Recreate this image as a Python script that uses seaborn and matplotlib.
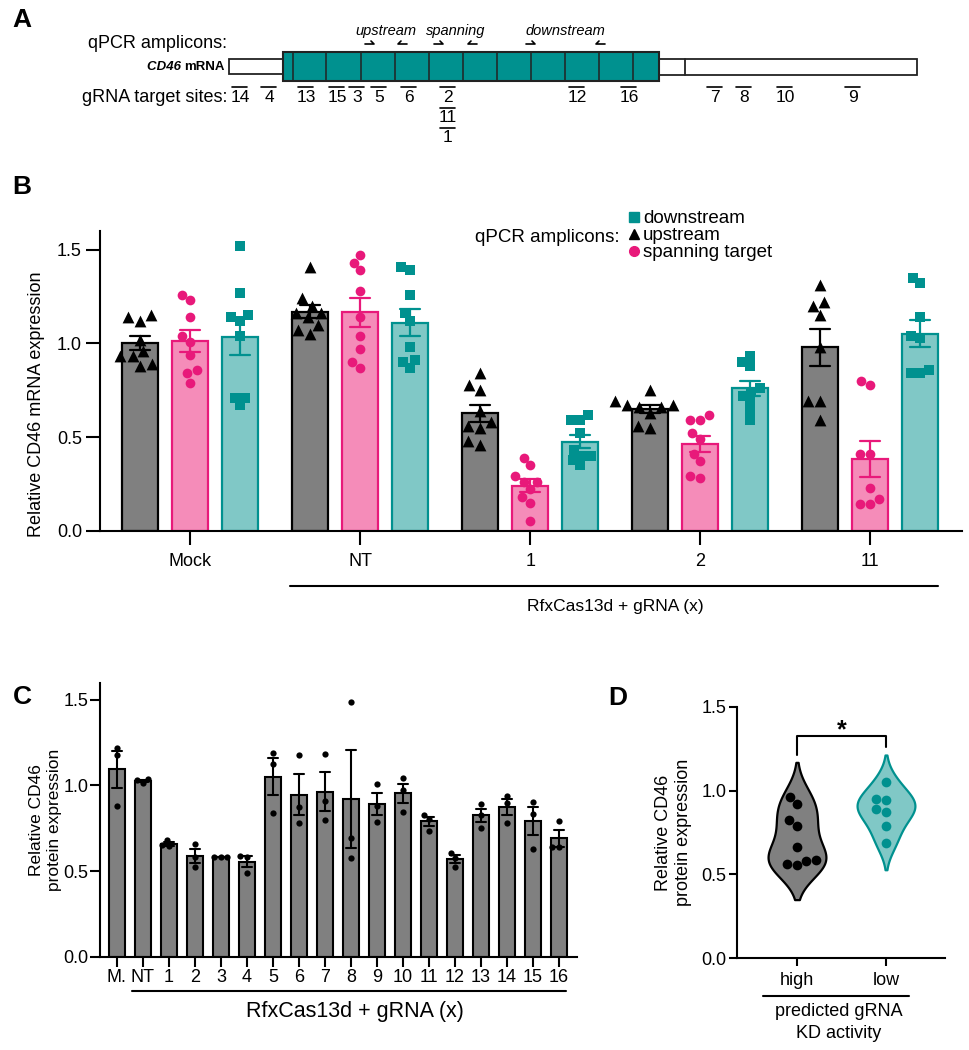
import numpy as np
import pandas as pd
import seaborn as sns
import matplotlib.pyplot as plt
from matplotlib.patches import Rectangle
from matplotlib.lines import Line2D

GRAY = "#808080"
PINK, PINK_DK = "#F58CB9", "#E8197A"
TEAL, TEAL_DK = "#80C8C6", "#00918F"

# A: CD46 transcript map (x in figure pixels)
exon_edges = [283, 293, 326, 361, 395, 429, 463, 497, 531, 565, 599, 633, 659]
utr5 = [229, 283]
utr3 = [659, 685, 917]
site_labels = ["14", "4", "13", "15", "3", "5", "6", "2", "11", "1", "12", "16", "7", "8", "10", "9"]
site_pos = [240, 269, 306, 337, 357, 379, 409, 448, 448, 448, 577, 629, 715, 744, 785, 853]
site_row = [0, 0, 0, 0, 0, 0, 0, 0, 1, 2, 0, 0, 0, 0, 0, 0]
amplicon_names = ["upstream", "spanning", "downstream"]
primer_fwd = [370, 439, 531]
primer_rev = [402, 472, 600]

# B: qPCR, relative CD46 mRNA
groups_b = ["Mock", "NT", "1", "2", "11"]
amplicons = ["upstream", "spanning target", "downstream"]
upstream = {
    "Mock": [1.14, 1.12, 1.15, 1.02, 0.93, 0.93, 0.96, 0.88, 0.89],
    "NT": [1.41, 1.24, 1.20, 1.16, 1.16, 1.14, 1.10, 1.05, 1.07],
    "1": [0.84, 0.78, 0.75, 0.64, 0.58, 0.56, 0.55, 0.48, 0.46],
    "2": [0.75, 0.67, 0.66, 0.66, 0.69, 0.67, 0.63, 0.55, 0.56],
    "11": [1.31, 1.22, 1.20, 1.15, 0.98, 0.69, 0.69, 0.59],
}
spanning = {
    "Mock": [1.26, 1.23, 1.14, 1.04, 1.01, 0.94, 0.86, 0.84, 0.79],
    "NT": [1.47, 1.43, 1.39, 1.28, 1.14, 1.04, 0.97, 0.90, 0.87],
    "1": [0.39, 0.35, 0.29, 0.26, 0.26, 0.22, 0.18, 0.15, 0.05],
    "2": [0.59, 0.59, 0.62, 0.49, 0.52, 0.37, 0.41, 0.28, 0.29],
    "11": [0.78, 0.80, 0.41, 0.41, 0.23, 0.17, 0.14, 0.14],
}
downstream = {
    "Mock": [1.52, 1.27, 1.12, 1.15, 1.14, 1.04, 0.67, 0.71, 0.71],
    "NT": [1.41, 1.39, 1.26, 1.16, 1.12, 0.98, 0.87, 0.91, 0.90],
    "1": [0.59, 0.59, 0.62, 0.52, 0.43, 0.40, 0.38, 0.40, 0.35],
    "2": [0.93, 0.88, 0.90, 0.76, 0.74, 0.72, 0.69, 0.64, 0.59],
    "11": [1.32, 1.35, 1.14, 1.04, 1.03, 0.84, 0.86, 0.84],
}
legend_order = ["downstream", "upstream", "spanning target"]

# C: relative CD46 protein, 3 replicates per guide
guides_c = ["M.", "NT"] + [str(i) for i in range(1, 17)]
protein_c = [
    [1.22, 1.18, 0.88], [1.012, 1.03, 1.035], [0.683, 0.648, 0.65], [0.657, 0.583, 0.524],
    [0.583, 0.58, 0.585], [0.589, 0.583, 0.49], [1.189, 1.123, 0.841], [1.179, 0.874, 0.783],
    [1.181, 0.907, 0.80], [1.486, 0.692, 0.577], [1.006, 0.88, 0.787], [1.043, 0.971, 0.845],
    [0.829, 0.806, 0.734], [0.608, 0.579, 0.524], [0.894, 0.826, 0.754], [0.938, 0.897, 0.781],
    [0.904, 0.836, 0.631], [0.793, 0.641, 0.641],
]

# D: protein by predicted KD activity
kd_order = ["high", "low"]
kd_high = [0.556, 0.919, 0.962, 0.823, 0.788, 0.665, 0.585, 0.565, 0.581]
kd_low = [1.052, 0.942, 0.950, 0.873, 0.889, 0.788, 0.688]

sns.set_style("ticks")
plt.rcParams["font.family"] = ["Liberation Sans", "DejaVu Sans"]
plt.rcParams.update({"axes.linewidth": 1.5, "xtick.major.width": 1.5, "ytick.major.width": 1.5,
                     "axes.edgecolor": "black", "xtick.color": "black", "ytick.color": "black",
                     "text.color": "black", "axes.labelcolor": "black"})

W, H = 969, 1050
fig = plt.figure(figsize=(W / 100, H / 100), dpi=100)


def box(l, t, r, b):
    return [l / W, 1 - b / H, (r - l) / W, (b - t) / H]


axb = fig.add_axes(box(100, 231, 962, 530.7))
axc = fig.add_axes(box(100, 682.7, 577, 956.7))
axd = fig.add_axes(box(737, 706.7, 945, 958.3))
ov = fig.add_axes([0, 0, 1, 1], zorder=5)
ov.set_xlim(0, W)
ov.set_ylim(H, 0)
ov.axis("off")

# ---- panel B ----
rows = []
for amp, d in zip(amplicons, [upstream, spanning, downstream]):
    for g, vals in d.items():
        rows += [(g, amp, v) for v in vals]
df_b = pd.DataFrame(rows, columns=["group", "amplicon", "value"])
SLOT = 0.294
df_b["pos"] = df_b["group"].map(groups_b.index) + (df_b["amplicon"].map(amplicons.index) - 1) * SLOT

styles_b = {"upstream": (GRAY, "black", "black", "^", 8.5),
            "spanning target": (PINK, PINK_DK, PINK_DK, "o", 7),
            "downstream": (TEAL, TEAL_DK, TEAL_DK, "s", 6.5)}
for amp in amplicons:
    fill, edge, pt, mk, ms = styles_b[amp]
    sub = df_b[df_b.amplicon == amp]
    sns.barplot(data=sub, x="pos", y="value", native_scale=True, orient="x", width=0.212,
                color=fill, saturation=1, edgecolor=edge, linewidth=1.6, errorbar="se",
                capsize=0.118, err_kws={"color": edge, "linewidth": 1.6}, ax=axb)
    sns.swarmplot(data=sub, x="pos", y="value", native_scale=True, orient="x", color=pt,
                  marker=mk, size=ms, ax=axb, zorder=3)

axb.set_ylim(0, 1.6)
axb.set_xlim(-0.53, 4.54)
axb.set_yticks([0, 0.5, 1.0, 1.5])
axb.set_xticks(range(len(groups_b)), groups_b)
axb.tick_params(length=10, labelsize=13)
axb.tick_params(axis="x", pad=6)
axb.tick_params(axis="y", pad=3)
axb.set_xlabel("")
axb.set_ylabel("Relative CD46 mRNA expression", fontsize=13)
axb.yaxis.set_label_coords(-0.064, 0.423)
sns.despine(ax=axb)

legend_ms = {"downstream": 6.5, "upstream": 6.5, "spanning target": 7}
handles = [Line2D([], [], ls="", marker=styles_b[a][3], color=styles_b[a][2],
                  ms=legend_ms[a]) for a in legend_order]
axb.legend(handles, legend_order, loc="upper left", bbox_to_anchor=(629 / W, 1 - 210 / H),
           bbox_transform=fig.transFigure, frameon=False, fontsize=13.5, handlelength=0.5,
           handletextpad=0.25, labelspacing=0.0, borderpad=0, borderaxespad=0)
ov.text(620, 237, "qPCR amplicons:", ha="right", va="center", fontsize=13.5)

# ---- panel C ----
df_c = pd.DataFrame([(g, v) for g, vals in zip(guides_c, protein_c) for v in vals],
                    columns=["guide", "value"])
sns.barplot(data=df_c, x="guide", y="value", order=guides_c, color=GRAY, saturation=1,
            width=0.59, edgecolor="black", linewidth=1.5, errorbar="se", capsize=0.37,
            err_kws={"color": "black", "linewidth": 1.5}, ax=axc)
sns.swarmplot(data=df_c, x="guide", y="value", order=guides_c, color="black", size=4.5,
              ax=axc, zorder=3)
axc.set_ylim(0, 1.6)
axc.set_xlim(-0.65, 17.69)
axc.set_yticks([0, 0.5, 1.0, 1.5])
axc.tick_params(length=7, labelsize=13, pad=1.5)
axc.set_xlabel("")
axc.set_ylabel("Relative CD46\nprotein expression", fontsize=12.5)
axc.yaxis.set_label_coords(-0.08, 0.5)
sns.despine(ax=axc)

# ---- panel D ----
df_d = pd.DataFrame({"activity": ["high"] * len(kd_high) + ["low"] * len(kd_low),
                     "value": kd_high + kd_low})
for act, fill, edge in [("high", GRAY, "black"), ("low", TEAL, TEAL_DK)]:
    sub = df_d[df_d.activity == act]
    sns.violinplot(data=sub, x="activity", y="value", order=kd_order, color=fill, saturation=1,
                   linecolor=edge, linewidth=1.6, inner=None, density_norm="width",
                   width=0.65, cut=2, ax=axd)
    sns.swarmplot(data=sub, x="activity", y="value", order=kd_order, color=edge, size=7,
                  ax=axd, zorder=3)
axd.plot([0, 0, 1, 1], [1.21, 1.323, 1.323, 1.26], color="black", lw=1.5, clip_on=False)
axd.text(0.5, 1.36, "*", ha="center", va="center", fontsize=18, weight="bold")
axd.set_ylim(0, 1.5)
axd.set_xlim(-0.674, 1.663)
axd.set_yticks([0, 0.5, 1.0, 1.5])
axd.tick_params(length=6, labelsize=13)
axd.tick_params(axis="x", pad=4)
axd.tick_params(axis="y", pad=1.5)
axd.set_xlabel("")
axd.set_ylabel("Relative CD46\nprotein expression", fontsize=13)
axd.yaxis.set_label_coords(-0.216, 0.5)
sns.despine(ax=axd)

# ---- panel A (drawn on the overlay) ----
ov.add_patch(Rectangle((utr5[0], 59), utr5[1] - utr5[0], 15, fc="white", ec="#222222", lw=1.3))
ov.add_patch(Rectangle((utr3[0], 59), utr3[2] - utr3[0], 16, fc="white", ec="#222222", lw=1.3))
ov.plot([utr3[1], utr3[1]], [59, 75], color="#222222", lw=1.3)
ov.add_patch(Rectangle((exon_edges[0], 52), exon_edges[-1] - exon_edges[0], 29,
                       fc=TEAL_DK, ec="#222222", lw=1.5))
for x in exon_edges[1:-1]:
    ov.plot([x, x], [52, 81], color="#222222", lw=1.1)

ov.text(227, 43, "qPCR amplicons:", ha="right", va="center", fontsize=13)
ov.text(227, 97, "gRNA target sites:", ha="right", va="center", fontsize=13)
t = ov.text(225, 67, "mRNA", ha="right", va="center", fontsize=9.5, weight="bold")
ov.annotate("CD46 ", xy=(0, 0.5), xycoords=t, ha="right", va="center", fontsize=9.5,
            weight="bold", style="italic")

row_y = [97, 118, 138]
for lab, x, r in zip(site_labels, site_pos, site_row):
    y = row_y[r]
    ov.text(x, y, lab, ha="center", va="center", fontsize=12.5)
    ov.plot([x - 7.5, x + 7.5], [y - 10.5, y - 10.5], color="black", lw=1.2)

for name, f, r in zip(amplicon_names, primer_fwd, primer_rev):
    ov.text((f + r) / 2, 31, name, ha="center", va="center", fontsize=10.5, style="italic")
    ov.plot([f - 5, f + 4, f + 1], [44, 44, 41], color="black", lw=1.2)
    ov.plot([r + 5, r - 4, r - 1], [44, 44, 41], color="black", lw=1.2)

# panel letters and group underlines
for letter, x, y in [("A", 22, 20), ("B", 22, 187), ("C", 22, 697), ("D", 618, 698)]:
    ov.text(x, y, letter, ha="center", va="center", fontsize=19, weight="bold")

ov.plot([290, 938], [586, 586], color="black", lw=1.5)
ov.text(615, 607, "RfxCas13d + gRNA (x)", ha="center", va="center", fontsize=12.5)
ov.plot([132, 566], [991, 991], color="black", lw=1.5)
ov.text(355, 1012, "RfxCas13d + gRNA (x)", ha="center", va="center", fontsize=15.5)
ov.plot([763, 909], [996, 996], color="black", lw=1.5)
ov.text(839, 1011, "predicted gRNA", ha="center", va="center", fontsize=13)
ov.text(839, 1033, "KD activity", ha="center", va="center", fontsize=13)

fig.savefig("out.png", dpi=100)
